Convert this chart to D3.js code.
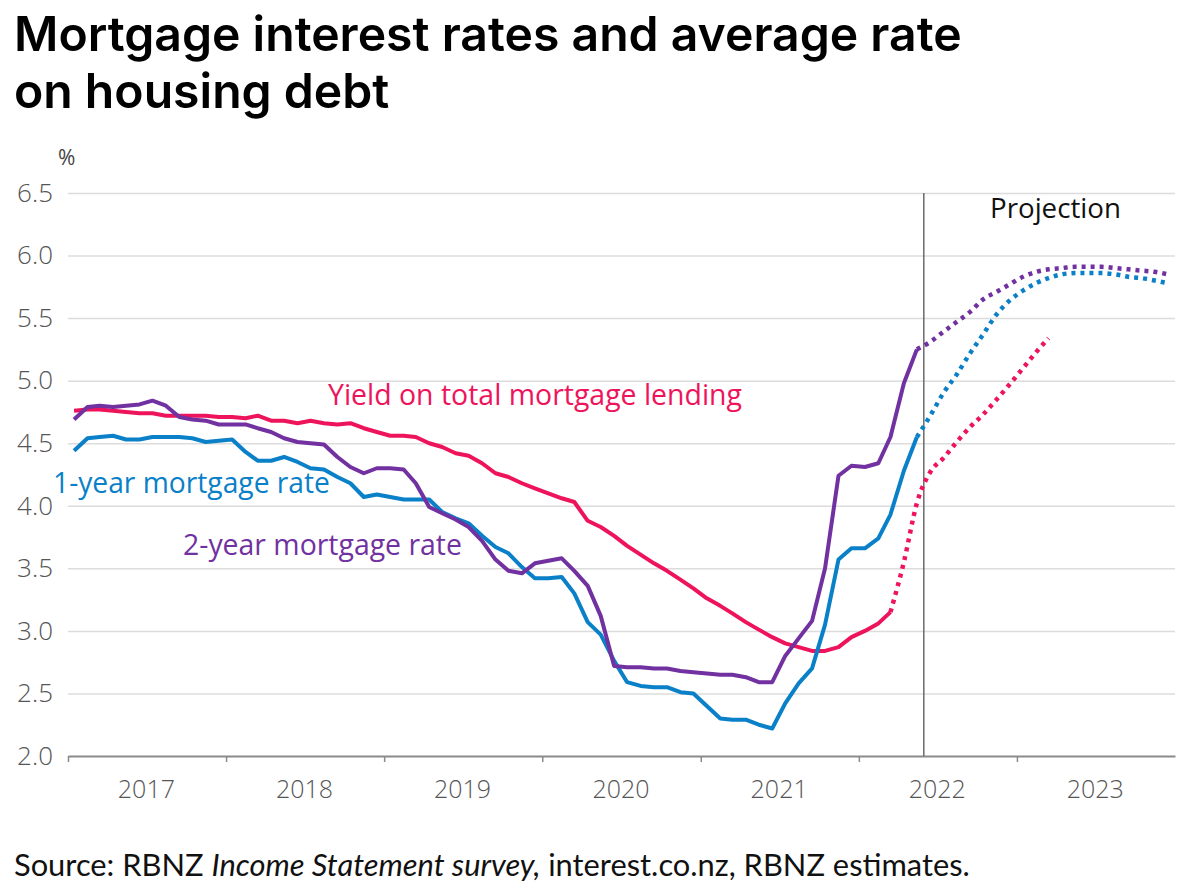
<!DOCTYPE html>
<html>
<head>
<meta charset="utf-8">
<script src="https://cdn.jsdelivr.net/npm/d3@7"></script>
<style>
  body { margin: 0; background: #fff; }
  svg { display: block; }
  .tick text { font-family: "Open Sans", "Noto Sans", sans-serif; }
</style>
</head>
<body>
<script>
(function(d3) {
  'use strict';

  var width = 1193;
  var height = 894;

  // monthly observations start in January 2017
  var startMonth = new Date(2017, 0, 15);

  var oneYear = [4.44, 4.54, 4.55, 4.56, 4.53, 4.53, 4.55, 4.55, 4.55, 4.54, 4.51, 4.52,
                 4.53, 4.43, 4.36, 4.36, 4.39, 4.35, 4.30, 4.29, 4.23, 4.18, 4.07, 4.09,
                 4.07, 4.05, 4.05, 4.05, 3.95, 3.90, 3.86, 3.76, 3.67, 3.62, 3.51, 3.42,
                 3.42, 3.43, 3.30, 3.07, 2.97, 2.76, 2.59, 2.56, 2.55, 2.55, 2.51, 2.50,
                 2.40, 2.30, 2.29, 2.29, 2.25, 2.22, 2.42, 2.58, 2.70, 3.05, 3.57, 3.66,
                 3.66, 3.74, 3.93, 4.28, 4.55];

  var twoYear = [4.69, 4.79, 4.80, 4.79, 4.80, 4.81, 4.84, 4.80, 4.71, 4.69, 4.68, 4.65,
                 4.65, 4.65, 4.62, 4.59, 4.54, 4.51, 4.50, 4.49, 4.39, 4.31, 4.26, 4.30,
                 4.30, 4.29, 4.18, 3.99, 3.94, 3.89, 3.83, 3.72, 3.57, 3.48, 3.46, 3.54,
                 3.56, 3.58, 3.48, 3.36, 3.12, 2.72, 2.71, 2.71, 2.70, 2.70, 2.68, 2.67,
                 2.66, 2.65, 2.65, 2.63, 2.59, 2.59, 2.80, 2.94, 3.08, 3.50, 4.24, 4.32,
                 4.31, 4.34, 4.55, 4.98, 5.25];

  var yieldTotal = [4.76, 4.77, 4.77, 4.76, 4.75, 4.74, 4.74, 4.72, 4.72, 4.72, 4.72, 4.71,
                    4.71, 4.70, 4.72, 4.68, 4.68, 4.66, 4.68, 4.66, 4.65, 4.66, 4.62, 4.59,
                    4.56, 4.56, 4.55, 4.50, 4.47, 4.42, 4.40, 4.34, 4.26, 4.23, 4.18, 4.14,
                    4.10, 4.06, 4.03, 3.88, 3.83, 3.76, 3.68, 3.61, 3.54, 3.48, 3.41, 3.34,
                    3.26, 3.20, 3.14, 3.07, 3.01, 2.95, 2.90, 2.87, 2.84, 2.84, 2.87, 2.95,
                    3.00, 3.06, 3.15];

  // projections (monthly), each picking up from the last observed month
  var oneYearProj = [4.55, 4.72, 4.90, 5.05, 5.22, 5.37, 5.53, 5.64, 5.72, 5.78,
                     5.82, 5.85, 5.86, 5.86, 5.86, 5.85, 5.83, 5.82, 5.80, 5.78];
  var twoYearProj = [5.25, 5.31, 5.39, 5.47, 5.55, 5.65, 5.71, 5.77, 5.83, 5.87,
                     5.89, 5.90, 5.91, 5.91, 5.91, 5.90, 5.89, 5.88, 5.87, 5.85];
  var yieldProj = [3.15, 3.55, 4.02, 4.27, 4.38, 4.51, 4.63, 4.73, 4.85, 4.97,
                   5.10, 5.23, 5.34];

  var yTicks = [2.0, 2.5, 3.0, 3.5, 4.0, 4.5, 5.0, 5.5, 6.0, 6.5];
  var yearLabels = ['2017', '2018', '2019', '2020', '2021', '2022', '2023'];
  var projectionStart = new Date(2022, 4, 31);

  var blue = '#0a80c8';
  var purple = '#7131a0';
  var pink = '#ee145c';

  function toPoints(values, offset) {
    return values.map(function(v, i) {
      return { date: d3.timeMonth.offset(startMonth, offset + i), v: v };
    });
  }

  var svg = d3.select('body')
    .append('svg')
    .attr('width', width)
    .attr('height', height);

  var x = d3.scaleTime()
    .domain([new Date(2017, 0, 1), new Date(2024, 0, 1)])
    .range([68, 1175]);

  var y = d3.scaleLinear()
    .domain([2, 6.5])
    .range([756, 193]);

  // squeeze a text node into a given width by changing its font size
  function fit(sel, target) {
    var fs = parseFloat(sel.attr('font-size'));
    var w = sel.node().getComputedTextLength();
    sel.attr('font-size', (fs * target / w).toFixed(2));
  }

  // title
  var t1 = svg.append('text')
    .attr('x', 14).attr('y', 51)
    .attr('font-family', 'Inter, Lato, sans-serif')
    .attr('font-weight', 600)
    .attr('font-size', 46)
    .attr('fill', '#000')
    .text('Mortgage interest rates and average rate');
  fit(t1, 948);
  var t2 = svg.append('text')
    .attr('x', 14).attr('y', 108)
    .attr('font-family', 'Inter, Lato, sans-serif')
    .attr('font-weight', 600)
    .attr('font-size', t1.attr('font-size'))
    .attr('fill', '#000')
    .text('on housing debt');

  // y grid + labels
  var yAxis = svg.append('g')
    .attr('transform', 'translate(68,0)')
    .call(d3.axisLeft(y)
      .tickValues(yTicks)
      .tickSize(-(1175 - 68))
      .tickPadding(15)
      .tickFormat(d3.format('.1f')));
  yAxis.select('.domain').remove();
  yAxis.selectAll('.tick line')
    .attr('stroke', '#dcdcdc')
    .attr('stroke-width', 1.5)
    .filter(function(d) { return d === 2; }).remove();
  yAxis.selectAll('.tick text')
    .attr('font-size', 26)
    .attr('font-weight', 300)
    .attr('fill', '#555');

  svg.append('text')
    .attr('x', 58).attr('y', 165)
    .attr('font-family', '"Open Sans", sans-serif')
    .attr('font-size', 21)
    .attr('fill', '#444')
    .text('%');

  // x axis
  var xAxis = svg.append('g')
    .attr('transform', 'translate(0,756)')
    .call(d3.axisBottom(x)
      .tickValues(yearLabels.map(function(yr) { return new Date(+yr, 0, 1); }))
      .tickSizeInner(6)
      .tickSizeOuter(0)
      .tickFormat(''));
  xAxis.select('.domain').attr('stroke', '#8a8a8a').attr('stroke-width', 2);
  xAxis.selectAll('.tick line').attr('stroke', '#8a8a8a').attr('stroke-width', 1.5);

  svg.append('g').selectAll('text')
    .data(yearLabels)
    .enter()
    .append('text')
    .attr('x', function(d) { return x(new Date(+d, 6, 1)); })
    .attr('y', 798)
    .attr('text-anchor', 'middle')
    .attr('font-family', '"Open Sans", sans-serif')
    .attr('font-size', 25)
    .attr('font-weight', 300)
    .attr('fill', '#555')
    .text(function(d) { return d; });

  // projection divider
  svg.append('line')
    .attr('x1', x(projectionStart)).attr('x2', x(projectionStart))
    .attr('y1', y(6.5)).attr('y2', y(2))
    .attr('stroke', '#6b6b6b')
    .attr('stroke-width', 1.5);

  var pj = svg.append('text')
    .attr('x', 990).attr('y', 218)
    .attr('font-family', '"Open Sans", sans-serif')
    .attr('font-size', 24)
    .attr('fill', '#111')
    .text('Projection');
  fit(pj, 131);

  var line = d3.line()
    .x(function(d) { return x(d.date); })
    .y(function(d) { return y(d.v); });

  var projLine = d3.line()
    .curve(d3.curveMonotoneX)
    .x(function(d) { return x(d.date); })
    .y(function(d) { return y(d.v); });

  var series = [
    { name: 'yield', hist: yieldTotal, proj: yieldProj, projAt: 62, color: pink },
    { name: 'one', hist: oneYear, proj: oneYearProj, projAt: 64, color: blue },
    { name: 'two', hist: twoYear, proj: twoYearProj, projAt: 64, color: purple }
  ];

  var plot = svg.append('g');
  series.forEach(function(s) {
    plot.append('path')
      .attr('d', projLine(toPoints(s.proj, s.projAt)))
      .attr('fill', 'none')
      .attr('stroke', s.color)
      .attr('stroke-width', 4.5)
      .attr('stroke-dasharray', '4,5');
  });
  series.forEach(function(s) {
    plot.append('path')
      .attr('d', line(toPoints(s.hist, 0)))
      .attr('fill', 'none')
      .attr('stroke', s.color)
      .attr('stroke-width', 4)
      .attr('stroke-linejoin', 'round');
  });

  // series labels
  var labels = [
    { text: 'Yield on total mortgage lending', x: 328, y: 405, w: 414, color: pink },
    { text: '1-year mortgage rate', x: 53, y: 493, w: 277, color: blue },
    { text: '2-year mortgage rate', x: 183, y: 555, w: 279, color: purple }
  ];
  labels.forEach(function(l) {
    var t = svg.append('text')
      .attr('x', l.x).attr('y', l.y)
      .attr('font-family', '"Open Sans", sans-serif')
      .attr('font-size', 26)
      .attr('fill', l.color)
      .text(l.text);
    fit(t, l.w);
  });

  // source
  var src = svg.append('text')
    .attr('x', 14).attr('y', 876)
    .attr('font-family', 'Lato, sans-serif')
    .attr('font-size', 25)
    .attr('fill', '#111');
  src.append('tspan').text('Source: RBNZ ');
  src.append('tspan').attr('font-style', 'italic').text('Income Statement survey,');
  src.append('tspan').text(' interest.co.nz, RBNZ estimates.');
  fit(src, 956);

})(window.d3);
</script>
</body>
</html>
